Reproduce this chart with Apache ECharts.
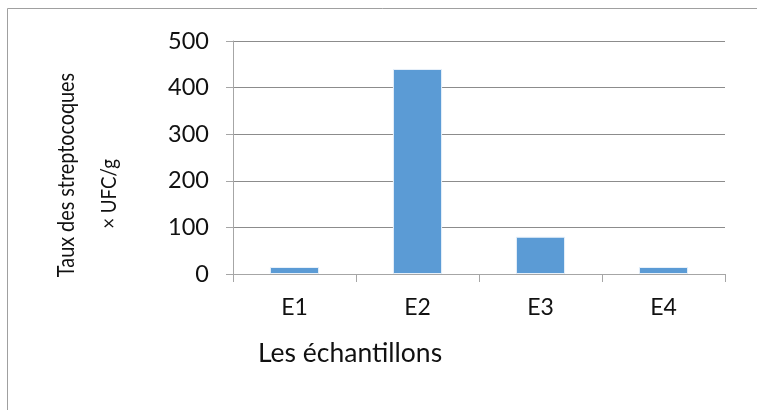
<!DOCTYPE html>
<html>
<head>
<meta charset="utf-8">
<script src="https://cdn.jsdelivr.net/npm/echarts@6/dist/echarts.min.js"></script>
<style>
  html, body { margin: 0; padding: 0; background: #fff; }
  #chart { width: 757px; height: 410px; }
</style>
</head>
<body>
<div id="chart"></div>
<script>
// Échantillons et taux de streptocoques (× UFC/g)
const categories = ['E1', 'E2', 'E3', 'E4'];
const counts = [15, 440, 80, 15];
const yTicks = { min: 0, max: 500, interval: 100 };

const FONT = 'Lato, "Open Sans", sans-serif';
const chart = echarts.init(document.getElementById('chart'), null, { renderer: 'canvas' });

chart.setOption({
  animation: false,
  backgroundColor: '#ffffff',
  grid: { left: 233, right: 32, top: 41, bottom: 136, containLabel: false },
  xAxis: {
    type: 'category',
    data: categories,
    axisLine: { lineStyle: { color: '#a6a6a6', width: 1 } },
    axisTick: { show: true, alignWithLabel: false, length: 8, lineStyle: { color: '#a6a6a6' } },
    axisLabel: { color: '#111111', fontFamily: FONT, fontSize: 23, margin: 22 }
  },
  yAxis: {
    type: 'value',
    min: yTicks.min,
    max: yTicks.max,
    interval: yTicks.interval,
    axisLine: { show: true, lineStyle: { color: '#a6a6a6', width: 1 } },
    axisTick: { show: true, length: 7, lineStyle: { color: '#a6a6a6' } },
    axisLabel: { color: '#111111', fontFamily: FONT, fontSize: 23.5, margin: 24 },
    splitLine: { show: true, lineStyle: { color: '#8c8c8c', width: 1 } }
  },
  series: [{
    type: 'bar',
    data: counts,
    barWidth: '40%',
    itemStyle: { color: '#5b9bd5', borderColor: '#e8f1fa', borderWidth: 1 }
  }],
  graphic: [
    {
      type: 'rect',
      silent: true,
      shape: { x: 7.5, y: 8.5, width: 800, height: 500 },
      style: { fill: null, stroke: '#a0a0a0', lineWidth: 1 }
    },
    {
      type: 'text',
      x: 350, y: 353,
      style: {
        text: 'Les échantillons',
        font: '26.5px ' + FONT,
        fill: '#111111',
        textAlign: 'center',
        textVerticalAlign: 'middle'
      }
    },
    {
      // vertical axis title, first line (condensed along the text)
      type: 'text',
      x: 67, y: 175,
      rotation: Math.PI / 2,
      scaleX: 0.88,
      scaleY: 1,
      style: {
        text: 'Taux des streptocoques',
        font: '22.5px ' + FONT,
        fill: '#111111',
        textAlign: 'center',
        textVerticalAlign: 'middle'
      }
    },
    {
      type: 'text',
      x: 109, y: 194,
      rotation: Math.PI / 2,
      scaleX: 0.85,
      scaleY: 1,
      style: {
        text: '× UFC/g',
        font: '22px ' + FONT,
        fill: '#111111',
        textAlign: 'center',
        textVerticalAlign: 'middle'
      }
    }
  ]
});
</script>
</body>
</html>
